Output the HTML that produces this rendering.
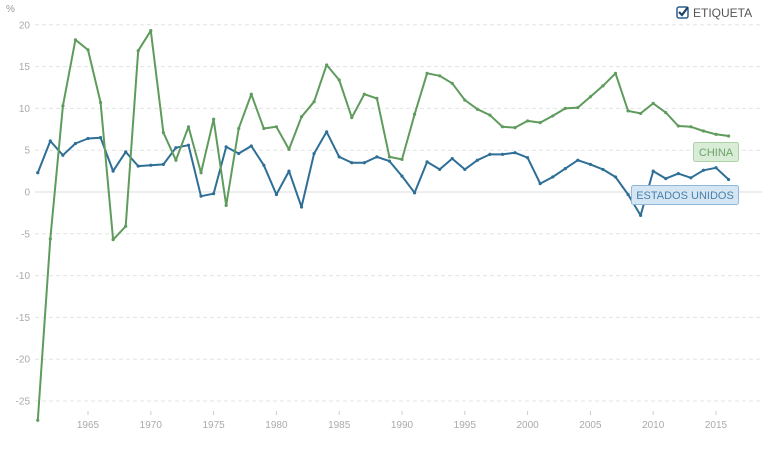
<!DOCTYPE html>
<html><head><meta charset="utf-8"><style>
html,body{margin:0;padding:0;background:#fff;}
svg{display:block;font-family:"Liberation Sans",sans-serif;}
</style></head><body>
<svg id="chart" width="762" height="451">
<text x="6" y="12" font-size="10" fill="#999">%</text>
<g id="grid"></g>
<g id="yticks"></g>
<g id="xticks"></g>
<g id="series"></g>
<g>
<rect x="677" y="7" width="11" height="11" rx="2" fill="#fff" stroke="#2b5f8f" stroke-width="1.5"/>
<path d="M679 12 l3 3 l6 -8" stroke="#1d3f66" stroke-width="2.2" fill="none"/>
<text x="693" y="17" font-size="12" fill="#555">ETIQUETA</text>
</g>
<g>
<rect x="693.5" y="142.5" width="45" height="19" rx="2" fill="#d9ecd5" stroke="#acd3a5"/>
<text x="716" y="156" font-size="11" fill="#6aa36a" text-anchor="middle">CHINA</text>
</g>
<g>
<rect x="631.5" y="185.5" width="107" height="19" rx="2" fill="#d4e6f4" stroke="#8fb8d8"/>
<text x="685" y="199" font-size="11" fill="#4a7fa8" text-anchor="middle">ESTADOS UNIDOS</text>
</g>
</svg>
<script>
const years = [];
for (let y = 1961; y <= 2016; y++) years.push(y);
const chinaValues = [-27.3,-5.6,10.3,18.2,17.0,10.7,-5.7,-4.1,16.9,19.3,7.1,3.8,7.8,2.3,8.7,-1.6,7.6,11.7,7.6,7.8,5.1,9.0,10.8,15.2,13.4,8.9,11.7,11.2,4.2,3.9,9.3,14.2,13.9,13.0,11.0,9.9,9.2,7.8,7.7,8.5,8.3,9.1,10.0,10.1,11.4,12.7,14.2,9.7,9.4,10.6,9.5,7.9,7.8,7.3,6.9,6.7];
const usValues = [2.3,6.1,4.4,5.8,6.4,6.5,2.5,4.8,3.1,3.2,3.3,5.3,5.6,-0.5,-0.2,5.4,4.6,5.5,3.2,-0.3,2.5,-1.8,4.6,7.2,4.2,3.5,3.5,4.2,3.7,1.9,-0.1,3.6,2.7,4.0,2.7,3.8,4.5,4.5,4.7,4.1,1.0,1.8,2.8,3.8,3.3,2.7,1.8,-0.3,-2.8,2.5,1.6,2.2,1.7,2.6,2.9,1.5];
const yTicks = [20,15,10,5,0,-5,-10,-15,-20,-25];
const xTicks = [1965,1970,1975,1980,1985,1990,1995,2000,2005,2010,2015];

const NS = "http://www.w3.org/2000/svg";
const x = yr => 88 + (yr - 1965) * 12.56;
const y = v => 192 - v * 8.36;
function mk(tag, attrs, parent) {
  const e = document.createElementNS(NS, tag);
  for (const k in attrs) e.setAttribute(k, attrs[k]);
  parent.appendChild(e);
  return e;
}
const grid = document.getElementById('grid');
const yt = document.getElementById('yticks');
yTicks.forEach(v => {
  const l = mk('line', {x1: 35, x2: 762, y1: y(v), y2: y(v), stroke: v === 0 ? '#ddd' : '#e3e3e3', 'stroke-dasharray': v === 0 ? 'none' : '4,3'}, grid);
  
  
  const t = mk('text', {x: 30, y: y(v) + 3.5, 'font-size': 10, fill: '#aaa', 'text-anchor': 'end'}, yt);
  t.textContent = v;
  
  
});
const xt = document.getElementById('xticks');
xTicks.forEach(yr => {
  const l = mk('line', {x1: x(yr), x2: x(yr), y1: 411, y2: 415, stroke: '#ccc'}, xt);
  
  
  const t = mk('text', {x: x(yr), y: 428, 'font-size': 10, fill: '#aaa', 'text-anchor': 'middle'}, xt);
  t.textContent = yr;
  
  
});
const sg = document.getElementById('series');
function drawSeries(vals, color, name) {
  const g = mk('g', {}, sg);
  
  
  const pts = vals.map((v, i) => x(years[i]).toFixed(1) + ',' + y(v).toFixed(1)).join(' ');
  const p = mk('polyline', {points: pts, fill: 'none', stroke: color, 'stroke-width': 2, 'stroke-linejoin': 'round'}, g);
  
  
  vals.forEach((v, i) => {
    const c = mk('circle', {cx: x(years[i]), cy: y(v), r: 1.6, fill: color}, g);
    
    
  });
}
drawSeries(usValues, '#2f6f97', 'us-series');
drawSeries(chinaValues, '#5f9b5c', 'china-series');
</script>
</body></html>
